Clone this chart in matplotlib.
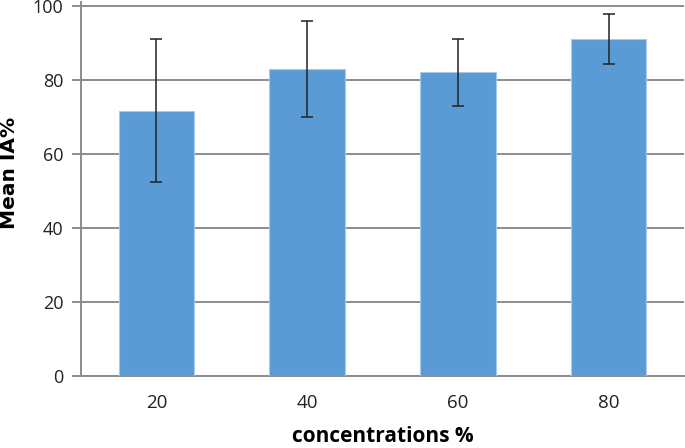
import matplotlib.pyplot as plt

# data
concentrations = ["20", "40", "60", "80"]
mean_ia = [71.7, 82.9, 82.1, 91.1]
err_ia = [19.3, 13.0, 9.0, 6.7]

GRID = "#8c8c8c"
BAR = "#5b9bd5"

fig = plt.figure(figsize=(6.85, 4.48), dpi=100)
# plot area: x 81..684 px, y 0 at 376 px, 100 at 6 px
ax = fig.add_axes([81 / 685, 1 - 376 / 448, 603 / 685, 373.7 / 448])

xx = range(len(concentrations))
ax.bar(xx, mean_ia, width=0.5, color=BAR, edgecolor="#a9c9ec", linewidth=0.8, zorder=3)
ax.errorbar(xx, mean_ia, yerr=err_ia, fmt="none", ecolor="#222222",
            elinewidth=1.1, capsize=4.5, capthick=1.1, zorder=4)

ax.set_xlim(-0.5, 3.5)
ax.set_ylim(0, 101)
ax.set_yticks([0, 20, 40, 60, 80, 100])
ax.set_xticks(list(xx))
ax.set_xticklabels(concentrations)

ax.yaxis.grid(True, color=GRID, linewidth=1.4, zorder=0)
ax.set_axisbelow(True)
for s in ["top", "right"]:
    ax.spines[s].set_visible(False)
ax.spines["left"].set_color(GRID)
ax.spines["left"].set_linewidth(1.4)
ax.spines["bottom"].set_color(GRID)
ax.spines["bottom"].set_linewidth(1.4)

ax.tick_params(axis="y", direction="out", length=6.5, width=1.4, color=GRID,
               labelsize=13, pad=6)
ax.tick_params(axis="x", length=0, labelsize=13.5, pad=13)
for lab in ax.get_xticklabels() + ax.get_yticklabels():
    lab.set_family("Open Sans")
    lab.set_color("#222222")

# axis titles placed like the original (y title sits a bit above centre)
fig.text(10 / 685, 1 - 172.5 / 448, "Mean IA%", rotation=90, ha="center", va="center",
         fontsize=14.5, fontweight="bold", family="DejaVu Sans")
fig.text(382.5 / 685, 6 / 448, "concentrations %", ha="center", va="baseline",
         fontsize=15, fontweight="bold", family="Open Sans")

fig.savefig("out.png", dpi=100)
